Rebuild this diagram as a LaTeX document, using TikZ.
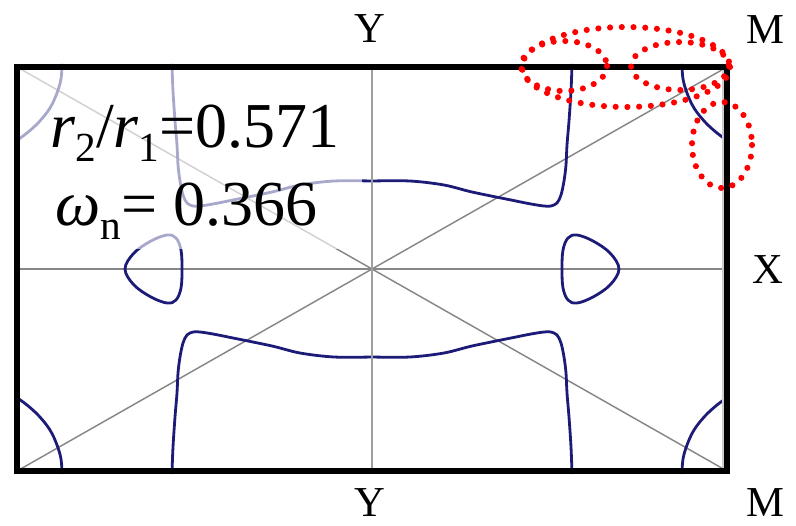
\documentclass[tikz,border=0pt]{standalone}
\usepackage{fontspec}
\setmainfont{Liberation Serif}
\definecolor{curveblue}{RGB}{28,28,120}
\definecolor{axisgray}{RGB}{135,135,135}
\newcommand\bzQuarter{%
  \draw[curve] plot[smooth, tension=0.6] coordinates {(-356,128) (-345,136) (-333,147) (-322,161) (-315,176) (-311,190) (-310,204)};
  \draw[curve] plot[smooth, tension=0.55] coordinates {(-200,204) (-199,178) (-197,148) (-195,124) (-194,104) (-192,88) (-189,74) (-185,66) (-179,63) (-172,63) (-159,65) (-139,69) (-100,77) (-72,84) (-38,88) (0,88)};
}
\newcommand\bzTri{%
  \draw[curve] plot[smooth cycle, tension=0.6] coordinates {(190,0) (191,-19) (196,-31) (205,-34) (221,-28) (238,-16) (247,0) (238,16) (221,28) (205,34) (196,31) (191,19)};
}
\begin{document}
\begin{tikzpicture}[x=0.75pt,y=-0.75pt,
  curve/.style={draw=curveblue,line width=2.1pt,line join=round,line cap=round},
  axisline/.style={draw=axisgray,line width=1.1pt},
  vaxis/.style={draw=axisgray!80,line width=0.8pt},
  frame/.style={draw=black,line width=4.3pt},
  reddots/.style={draw=red,line width=4.6pt,line cap=round,dash pattern=on 0pt off 8.8pt},
  lab/.style={font=\fontsize{32}{36}\selectfont,inner sep=0pt},
  bigtxt/.style={font=\fontsize{48}{52}\selectfont,inner sep=0pt,anchor=base west}]
\useasboundingbox (0,0) rectangle (796,525);
\coordinate (TL) at (17,67);
\coordinate (TR) at (727,67);
\coordinate (BL) at (17,471);
\coordinate (BR) at (727,471);
\coordinate (O) at (372,269);
\coordinate (L) at (17,269);
\coordinate (R) at (727,269);
\coordinate (T) at (372,67);
\coordinate (B) at (372,471);
% axes and diagonals
\draw[axisline] (L) -- (R);
\draw[axisline] (TL) -- (BR);
\draw[axisline] (BL) -- (TR);
% curves
\begin{scope}[shift={(O)}]
  \bzQuarter
  \bzTri
\end{scope}
\begin{scope}[shift={(O)},xscale=-1]
  \bzQuarter
  \bzTri
\end{scope}
\begin{scope}[shift={(O)},yscale=-1]
  \bzQuarter
\end{scope}
\begin{scope}[shift={(O)},xscale=-1,yscale=-1]
  \bzQuarter
\end{scope}
\draw[vaxis] (T) -- (B);
% faded region behind the text
\fill[white,opacity=0.62] (20,70) rectangle (362,249);
% inner light edge and frame
\draw[gray!40,line width=1.4pt] (723,69) -- (723,469);
\draw[frame] (TL) rectangle (BR);
% red dotted ellipses
\draw[reddots] (564,66) ellipse [x radius=43, y radius=25];
\draw[reddots] (680,66) ellipse [x radius=49, y radius=24];
\draw[reddots] (626,67) ellipse [x radius=104, y radius=40];
\draw[reddots] (722,145) ellipse [x radius=30, y radius=43];
% labels
\node[lab] (ytop) at (370,29) {Y};
\node[lab] (mtop) at (765,30) {M};
\node[lab] (xr) at (768,270) {X};
\node[lab] (ybot) at (370,503) {Y};
\node[lab] (mbot) at (765,503) {M};
\node[bigtxt] (ratio) at (50,147) {\textit{r}\raisebox{-0.22em}{\fontsize{31}{31}\selectfont 2}/\textit{r}\raisebox{-0.22em}{\fontsize{31}{31}\selectfont 1}=0.571};
\node[bigtxt] (omega) at (55,225) {\textit{ω}\raisebox{-0.22em}{\fontsize{31}{31}\selectfont n}= 0.366};
\end{tikzpicture}
\end{document}
